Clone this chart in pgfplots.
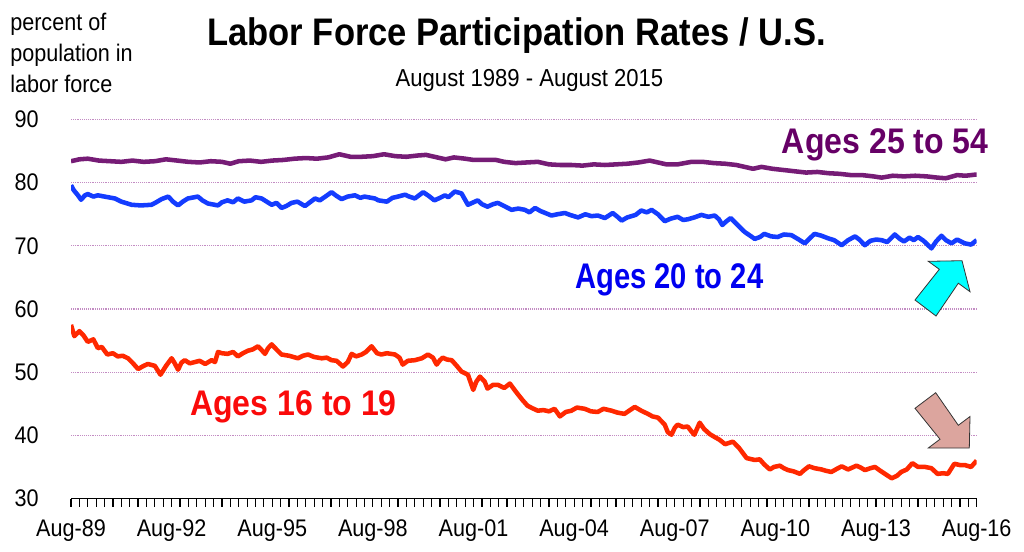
\documentclass[border=0pt]{standalone}
\usepackage{fontspec}
\setmainfont{Liberation Sans}[FakeStretch=0.9]
\usepackage{pgfplots}
\pgfplotsset{compat=1.18}
\usepackage{graphicx}

\definecolor{pline}{RGB}{118,28,118}
\definecolor{ptext}{RGB}{102,0,102}
\definecolor{bline}{RGB}{20,60,255}
\definecolor{btext}{RGB}{0,0,240}
\definecolor{rline}{RGB}{255,40,0}
\definecolor{rtext}{RGB}{250,10,10}
\definecolor{gridc}{RGB}{195,140,195}
\definecolor{arrcyan}{RGB}{0,255,255}
\definecolor{arrpink}{RGB}{220,165,158}

\begin{document}
\begin{tikzpicture}
\path[use as bounding box] (0pt,0pt) rectangle (768pt,-413.25pt);

\begin{axis}[
    at={(53.25pt,-373.875pt)}, anchor=south west,
    scale only axis, width=679.25pt, height=284.25pt,
    xmin=0, xmax=324, ymin=30, ymax=90,
    axis x line*=bottom, axis y line*=left,
    x axis line style={-, line width=1.2pt},
    y axis line style={draw=none},
    xtick={0,36,...,324},
    xticklabels={Aug-89,Aug-92,Aug-95,Aug-98,Aug-01,Aug-04,Aug-07,Aug-10,Aug-13,Aug-16},
    minor x tick num=11,
    xtick align=outside,
    major tick length=6pt, minor tick length=6pt,
    xtick style={black, line width=0.9pt},
    ytick={30,40,...,90},
    ytick style={draw=none},
    ymajorgrids,
    grid style={densely dotted, gridc, line width=0.8pt},
    /pgf/number format/assume math mode=true,
    tick label style={font=\fontsize{18}{18}\selectfont},
    yticklabel style={anchor=east, inner sep=0pt, xshift=-24pt},
    xticklabel style={anchor=north, inner sep=0pt, yshift=-10pt},
    every axis plot/.append style={line width=3.4pt, line join=round},
]
% Ages 25 to 54
\addplot[pline] coordinates {
(0,83.4) (3,83.7) (6,83.8) (10,83.5) (14,83.4) (18,83.3) (22,83.5) (26,83.3) (30,83.4) (34,83.7)
(38,83.5) (42,83.3) (46,83.2) (50,83.4) (54,83.3) (57,83.0) (60,83.4) (64,83.5) (68,83.3) (72,83.5)
(76,83.6) (80,83.8) (84,83.9) (88,83.8) (92,84.0) (96,84.5) (100,84.1) (104,84.1) (108,84.2) (112,84.5)
(116,84.2) (120,84.1) (124,84.3) (127,84.4) (130,84.1) (134,83.7) (137,84.0) (141,83.8) (144,83.6) (148,83.6)
(152,83.6) (155,83.3) (159,83.1) (163,83.2) (167,83.3) (171,82.9) (175,82.8) (179,82.8) (183,82.7) (187,82.9)
(191,82.8) (195,82.9) (199,83.0) (203,83.2) (207,83.5) (210,83.2) (213,82.9) (217,82.9) (222,83.3) (226,83.3)
(230,83.1) (234,83.0) (238,82.8) (241,82.5) (244,82.2) (247,82.5) (251,82.2) (255,82.0) (259,81.8) (263,81.6)
(267,81.7) (271,81.5) (275,81.4) (279,81.2) (283,81.2) (287,81.0) (290,80.8) (294,81.1) (298,81.0) (302,81.1)
(306,81.0) (310,80.8) (313,80.7) (317,81.2) (320,81.1) (324,81.3)
};
% Ages 20 to 24
\addplot[bline] coordinates {
(0,79.6) (1,78.8) (2.5,78.0) (3.6,77.3) (5,78.0) (6,78.2) (8,77.8) (9.6,78.0) (12,77.8) (15.7,77.5)
(18,77.0) (21.7,76.5) (25,76.4) (28.8,76.5) (30.5,76.9) (32.4,77.4) (34.8,77.8) (36.5,77.0) (38.3,76.4) (40,77.0)
(41.8,77.5) (45.4,77.8) (47,77.2) (49,76.7) (52.6,76.4) (54,76.9) (56,77.2) (58,76.9) (59.7,77.5) (62,77.0)
(64.6,77.2) (66,77.7) (68.2,77.5) (70,77.0) (71.8,76.5) (73.5,76.8) (75.3,76.0) (77,76.3) (78.9,76.8) (81,77.0)
(83.7,76.3) (85.5,76.9) (87.3,77.5) (89,77.2) (91,77.8) (93.2,78.5) (95,77.9) (96.8,77.4) (99,77.8) (101.6,78.0)
(103.5,77.6) (105,77.8) (108.7,77.5) (110,77.2) (113,77.0) (115,77.6) (117,77.8) (119.5,78.1) (121,77.8) (123,77.5)
(126,78.5) (128,77.9) (130,77.2) (132,77.6) (133.8,78.0) (135,77.7) (137.3,78.6) (139.7,78.3) (142,76.5) (144,76.9)
(145.5,77.2) (147,76.6) (149,76.2) (151,76.6) (152.7,76.8) (155,76.3) (157.6,75.7) (160,75.9) (162.4,75.7) (164,75.3)
(166,76.0) (168,75.5) (171.9,74.8) (174,75.0) (176.7,75.2) (178.5,74.9) (181.4,74.5) (184,75.0) (186.2,74.7) (188.5,74.8)
(191,74.4) (193.8,75.2) (195.5,74.6) (197,74.0) (199,74.5) (200.5,74.7) (202,74.9) (204,75.6) (206,75.3) (207.7,75.7)
(210,75.0) (212.4,73.9) (214.5,74.3) (217,74.6) (219,74.1) (220.6,74.2) (223,74.5) (225.5,74.9) (228,74.6) (230.3,74.8)
(231.8,74.2) (233,73.3) (234.5,73.9) (236,74.4) (238,73.5) (241,72.2) (243,71.6) (244.6,71.1) (246.5,71.4) (248,71.9)
(250.5,71.5) (252.8,71.4) (255,71.8) (257.7,71.7) (260,71.1) (262.5,70.4) (264.3,71.2) (266,71.9) (268.5,71.6) (270.8,71.2)
(273,70.9) (275.7,70.1) (278,70.9) (280.5,71.5) (282,71.0) (284,70.1) (286,70.8) (288,71.0) (290,70.9) (292,70.6)
(294.7,71.8) (296.5,71.1) (298,70.7) (300,71.3) (301.5,70.9) (303,71.4) (305,70.8) (307.8,69.6) (309.5,70.7) (311.4,71.6)
(313,70.9) (315,70.4) (317,71.0) (319.7,70.4) (322,70.2) (324,70.9)
};
% Ages 16 to 19
\addplot[rline] coordinates {
(0,57.5) (1.2,55.7) (3,56.5) (4.5,55.8) (6,54.8) (8,55.2) (9.6,53.8) (11,54.0) (13,52.8) (15,53.0)
(16.7,52.5) (18.5,52.6) (20.4,52.2) (22,51.5) (24,50.5) (26,51.0) (27.5,51.3) (30,51.0) (32,49.6) (34,51.0)
(36,52.2) (37,51.5) (38.3,50.4) (39.5,51.5) (40.7,51.9) (42.5,51.4) (44.3,51.6) (46,51.8) (48,51.3) (50.3,51.9)
(51.5,51.6) (52.6,53.2) (54,53.0) (56,52.9) (58,53.2) (59.7,52.5) (61.5,53.0) (63.3,53.4) (65,53.6) (66.9,54.1)
(68,53.6) (69.4,52.9) (70.5,53.8) (71.8,54.4) (73.5,53.6) (75.3,52.8) (78,52.6) (81.2,52.2) (83,52.6) (84.8,52.8)
(87,52.4) (89.7,52.2) (91.5,52.3) (93.2,51.9) (95,51.8) (97.3,50.9) (99,51.6) (100.4,52.9) (102,52.5) (104,52.8)
(105.5,53.2) (107.5,54.1) (109.5,53.0) (111,52.8) (113,53.0) (115.9,52.8) (117.5,52.3) (118.7,51.2) (120.5,51.8) (123,51.9)
(125.5,52.2) (127.7,52.8) (129.5,52.3) (130.8,51.2) (132,51.9) (133,52.3) (134.5,52.0) (136.2,51.9) (138,51.0) (139.7,50.1)
(142,49.6) (143.9,47.2) (145,48.5) (146.3,49.3) (148,48.5) (149,47.4) (151,48.0) (152.7,48.0) (155,47.5) (157,48.2)
(158.5,47.3) (159.7,46.6) (161.5,45.6) (163.3,44.7) (165,44.3) (167,43.9) (169,44.0) (171,43.8) (173,44.2) (174.9,43.0)
(177,43.7) (179,43.9) (181,44.4) (183.8,44.2) (186,43.8) (188.4,43.7) (190.5,44.2) (193.4,43.9) (195.5,43.6) (198,43.4)
(200,44.0) (201.7,44.5) (204,43.9) (206.4,43.4) (208,43.0) (210,42.8) (212.4,41.7) (213.5,40.5) (214.8,40.1) (216,41.2)
(217,41.7) (219,41.3) (220.6,41.4) (222,40.6) (223,40.1) (224.9,42.0) (226.5,41.0) (228.5,40.2) (230,39.8) (232,39.3)
(234,38.6) (236.8,39.0) (239,38.0) (241.7,36.4) (244.6,36.1) (246.4,36.2) (248,35.4) (250,34.6) (251.5,35.0) (253.6,35.2)
(255,34.8) (256.5,34.5) (258.5,34.3) (260.8,33.9) (262,34.4) (264,35.1) (266,34.8) (268.5,34.6) (270,34.4) (272,34.2)
(274,34.7) (275.7,35.1) (278,34.6) (281,35.2) (282.5,34.9) (284,34.5) (286,34.8) (287.6,35.0) (289.5,34.4) (291.2,33.9)
(293.6,33.2) (295.5,33.6) (297,34.2) (299,34.6) (301,35.6) (303,35.0) (305.5,35.0) (307.8,34.8) (310,33.9) (312,34.0)
(313.7,33.9) (316,35.5) (318,35.3) (319.7,35.3) (322,35.0) (324,36.0)
};
\end{axis}

% annotations, positions in pixels from the top left corner
\begin{scope}[x=0.75pt, y=-0.75pt, every node/.style={inner sep=0pt, anchor=base west}]
\node[anchor=base] at (516.5,45) {\fontsize{28.8}{30}\selectfont\bfseries Labor Force Participation Rates / U.S.};
\node[anchor=base] at (529.5,86) {\fontsize{18.4}{20}\selectfont August 1989 - August 2015};
\node at (10,30.5) {\fontsize{18}{20}\selectfont percent of};
\node at (10,61.5) {\fontsize{18}{20}\selectfont population in};
\node at (10,92.5) {\fontsize{18}{20}\selectfont labor force};
\node[text=ptext] at (781.7,153.5) {\fontsize{26.7}{28}\selectfont\bfseries Ages 25 to 54};
\node[text=btext] at (575,288.3) {\scalebox{0.91}[1]{\fontsize{26.7}{28}\selectfont\bfseries Ages 20 to 24}};
\node[text=rtext] at (190,415) {\fontsize{26.7}{28}\selectfont\bfseries Ages 16 to 19};
\draw[fill=arrcyan, draw=black!80, line width=0.6pt, line join=miter]
  (928.3,261.3) -- (962,260.7) -- (970,291.7) -- (958.3,283.2) -- (936,316) -- (915,300) -- (939.3,269.3) -- cycle;
\draw[fill=arrpink, draw=black!80, line width=0.6pt, line join=miter]
  (915,408.3) -- (935.7,392.7) -- (958.3,425.3) -- (970,416.5) -- (969.3,448) -- (928.3,448) -- (940,439.2) -- cycle;
\end{scope}
\end{tikzpicture}
\end{document}
